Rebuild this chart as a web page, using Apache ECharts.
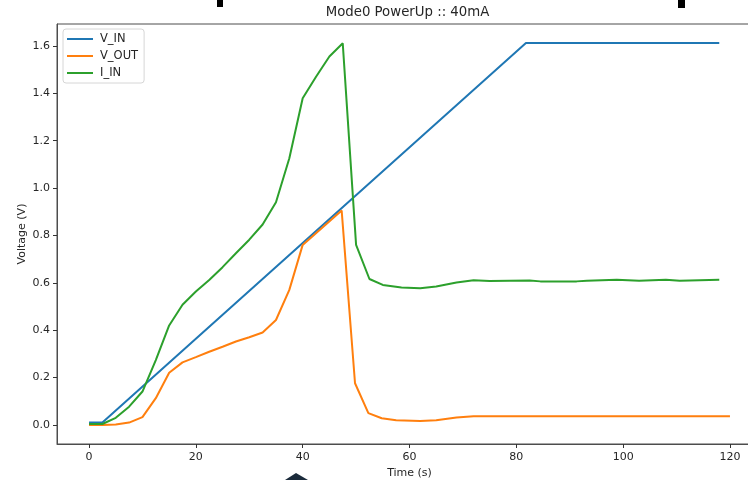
<!DOCTYPE html>
<html>
<head>
<meta charset="utf-8">
<script src="https://cdn.jsdelivr.net/npm/echarts@6/dist/echarts.min.js"></script>
<style>
html,body{margin:0;padding:0;background:#fff;}
#chart{width:748px;height:480px;}
</style>
</head>
<body>
<div id="chart"></div>
<script>
// ---- data ----
const titleText = 'Mode0 PowerUp :: 40mA';
const seriesNames = ['V_IN', 'V_OUT', 'I_IN'];
const xTicks = [0, 20, 40, 60, 80, 100, 120];
const yTicks = [0, 0.2, 0.4, 0.6, 0.8, 1.0, 1.2, 1.4, 1.6];

const vInTime = [0, 2.5, 81.8, 118];
const vInVal  = [0.01, 0.01, 1.612, 1.612];

const vOutTime = [0, 2.5, 5, 7.5, 10, 12.5, 15, 17.5, 20, 22.5, 25, 27.5, 30, 32.5, 35, 37.5, 40, 47.3, 49.8, 52.3, 54.8, 57.5, 62, 65, 68.8, 72, 120];
const vOutVal  = [0, 0, 0.002, 0.01, 0.033, 0.113, 0.22, 0.264, 0.286, 0.309, 0.33, 0.352, 0.37, 0.39, 0.443, 0.57, 0.76, 0.905, 0.176, 0.05, 0.028, 0.02, 0.017, 0.02, 0.031, 0.037, 0.037];

const iInTime = [0, 2.5, 5, 7.5, 10, 12.5, 15, 17.5, 20, 22.5, 25, 27.5, 30, 32.5, 35, 37.5, 40, 42.5, 45, 47.5, 50, 52.5, 55, 58.5, 62, 65, 68.8, 72, 75, 82.5, 84.5, 91.3, 93.2, 98.8, 103, 108, 110.6, 118];
const iInVal  = [0.004, 0.004, 0.03, 0.077, 0.141, 0.274, 0.42, 0.507, 0.563, 0.612, 0.666, 0.725, 0.782, 0.846, 0.94, 1.126, 1.379, 1.47, 1.555, 1.611, 0.76, 0.616, 0.591, 0.58, 0.577, 0.584, 0.601, 0.611, 0.608, 0.61, 0.606, 0.606, 0.609, 0.613, 0.609, 0.613, 0.609, 0.613];

const colors = ['#1f77b4', '#ff7f0e', '#2ca02c'];

function pairs(t, v) { return t.map((x, i) => [x, v[i]]); }

const FONT = 'DejaVu Sans';
const TXT = '#262626';
const chart = echarts.init(document.getElementById('chart'), null, {renderer: 'canvas'});

const option = {
  animation: false,
  backgroundColor: '#fff',
  textStyle: {fontFamily: FONT},
  grid: {left: 57, top: 24, width: 705, height: 420, show: true, borderColor: '#4d4d4d', borderWidth: 1, backgroundColor: 'transparent', containLabel: false, outerBoundsMode: 'none'},
  legend: {
    orient: 'vertical', left: 63, top: 29,
    data: seriesNames,
    icon: 'rect', itemWidth: 26, itemHeight: 2, itemGap: 3,
    padding: [3, 6, 3, 4],
    backgroundColor: 'rgba(255,255,255,0.85)',
    borderColor: '#d6d6d6', borderWidth: 1, borderRadius: 3,
    textStyle: {fontFamily: FONT, fontSize: 11.5, color: TXT, lineHeight: 14, padding: [0, 0, 0, 2]}
  },
  xAxis: {
    type: 'value', min: -6, max: 126,
    name: 'Time (s)', nameLocation: 'middle', nameGap: 24, nameMoveOverlap: false,
    nameTextStyle: {fontFamily: FONT, fontSize: 11, color: TXT},
    axisLine: {show: true, onZero: false, lineStyle: {color: '#4d4d4d', width: 1}},
    axisTick: {show: true, length: 4, lineStyle: {color: '#333'}, customValues: xTicks},
    axisLabel: {fontFamily: FONT, fontSize: 11, color: TXT, margin: 8, customValues: xTicks, formatter: v => String(v)},
    splitLine: {show: false}
  },
  yAxis: {
    type: 'value', min: -0.0805, max: 1.6925,
    name: 'Voltage (V)', nameLocation: 'middle', nameGap: 29, nameRotate: 90, nameMoveOverlap: false,
    nameTextStyle: {fontFamily: FONT, fontSize: 11, color: TXT},
    axisLine: {show: true, onZero: false, lineStyle: {color: '#4d4d4d', width: 1}},
    axisTick: {show: true, length: 4, lineStyle: {color: '#333'}, customValues: yTicks},
    axisLabel: {fontFamily: FONT, fontSize: 11, color: TXT, margin: 7, customValues: yTicks, formatter: v => v.toFixed(1)},
    splitLine: {show: false}
  },
  series: [
    {name: seriesNames[0], type: 'line', data: pairs(vInTime, vInVal), showSymbol: false, symbol: 'none', lineStyle: {width: 2, color: colors[0]}, itemStyle: {color: colors[0]}},
    {name: seriesNames[1], type: 'line', data: pairs(vOutTime, vOutVal), showSymbol: false, symbol: 'none', lineStyle: {width: 2, color: colors[1]}, itemStyle: {color: colors[1]}},
    {name: seriesNames[2], type: 'line', data: pairs(iInTime, iInVal), showSymbol: false, symbol: 'none', lineStyle: {width: 2, color: colors[2]}, itemStyle: {color: colors[2]}}
  ],
  graphic: [
    {type: 'text', x: 407.5, y: 13, style: {text: titleText, x: 0, y: 0, align: 'center', verticalAlign: 'middle', font: '13.3px "DejaVu Sans"', fill: TXT}},
    {type: 'rect', shape: {x: 217, y: 0, width: 6, height: 7}, style: {fill: '#000'}},
    {type: 'rect', shape: {x: 678, y: 0, width: 7, height: 8}, style: {fill: '#000'}},
    {type: 'polygon', shape: {points: [[285, 480], [296, 473], [308, 480]]}, style: {fill: '#1b2b3b'}}
  ]
};
chart.setOption(option);
</script>
</body>
</html>
